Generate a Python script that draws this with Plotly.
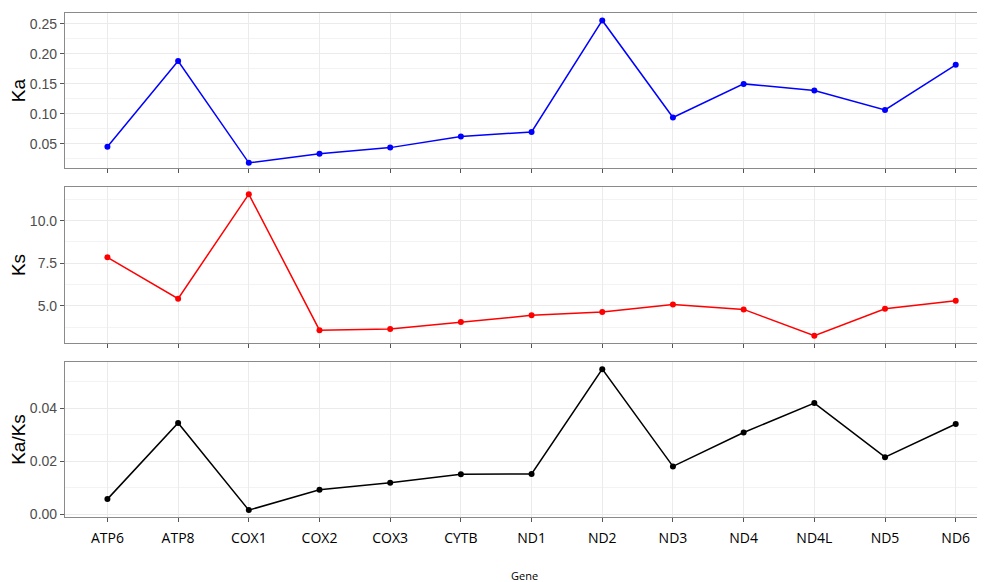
import plotly.graph_objects as go

genes = ["ATP6", "ATP8", "COX1", "COX2", "COX3", "CYTB", "ND1", "ND2", "ND3", "ND4", "ND4L", "ND5", "ND6"]
ka = [0.0455, 0.188, 0.0186, 0.0337, 0.0439, 0.0624, 0.070, 0.2556, 0.094, 0.150, 0.139, 0.1067, 0.1817]
ks = [7.85, 5.43, 11.55, 3.58, 3.65, 4.06, 4.45, 4.65, 5.08, 4.80, 3.26, 4.84, 5.31]
kaks = [0.00575, 0.0345, 0.0016, 0.00925, 0.0119, 0.0151, 0.01525, 0.0548, 0.0181, 0.0309, 0.042, 0.0216, 0.0341]

series = [
    ("Ka", ka, "#0000FF", [0.01, 0.268], 0.05, 0.025, ".2f", [0.6925, 1.0]),
    ("Ks", ks, "#FF0000", [2.83, 11.97], 2.5, 1.25, ".1f", [0.3452, 0.6548]),
    ("Ka/Ks", kaks, "#000000", [-0.001, 0.0575], 0.02, 0.01, ".2f", [0.0, 0.3075]),
]

fig = go.Figure()
tick_font = dict(family="Liberation Sans, Arial, sans-serif", size=14, color="#4D4D4D")

for i, (name, vals, color, yr, dt, mdt, fmt, dom) in enumerate(series, start=1):
    xa = "x" if i == 1 else f"x{i}"
    ya = "y" if i == 1 else f"y{i}"
    fig.add_trace(go.Scatter(
        x=genes, y=vals, mode="lines+markers",
        line=dict(color=color, width=1.5),
        marker=dict(color=color, size=6),
        xaxis=xa, yaxis=ya, showlegend=False,
    ))
    xkey = "xaxis" if i == 1 else f"xaxis{i}"
    ykey = "yaxis" if i == 1 else f"yaxis{i}"
    fig.layout[xkey] = dict(
        type="category", categoryorder="array", categoryarray=genes,
        range=[-0.6, 12.4], anchor=ya, domain=[0, 1],
        showgrid=True, gridcolor="#EBEBEB", gridwidth=1,
        showline=True, linecolor="#8A8A8A", linewidth=1.2, mirror=True,
        ticks="outside", ticklen=4, tickcolor="#555555", tickwidth=1,
        showticklabels=(i == 3), ticklabelstandoff=4,
        tickfont=dict(family="Open Sans, Noto Sans, sans-serif", size=14, color="#000000"),
        zeroline=False,
    )
    fig.layout[ykey] = dict(
        range=yr, domain=dom, anchor=xa,
        dtick=dt, tick0=0, tickformat=fmt,
        showgrid=True, gridcolor="#EBEBEB", gridwidth=1,
        minor=dict(dtick=mdt, tick0=0, showgrid=True, gridcolor="#F3F3F3", gridwidth=0.7),
        showline=True, linecolor="#8A8A8A", linewidth=1.2,
        ticks="outside", ticklen=4, tickcolor="#555555", tickwidth=1,
        tickfont=tick_font, zeroline=False, automargin=False,
        title=dict(text=name, font=dict(family="Liberation Sans, Arial, sans-serif", size=19, color="#000000"), standoff=4),
    )

# the page adds an 8 px body margin, so the margins below are offset by it
fig.update_layout(
    width=985, height=582,
    margin=dict(l=57, r=9, t=5, b=73, autoexpand=False),
    plot_bgcolor="#FFFFFF", paper_bgcolor="#FFFFFF",
    annotations=[dict(
        text="Gene", xref="paper", yref="paper", x=0.5, y=-0.117,
        xanchor="center", yanchor="middle", showarrow=False,
        font=dict(family="Open Sans, Noto Sans, sans-serif", size=11, color="#000000"),
    )],
)

fig.write_html("out.html")
